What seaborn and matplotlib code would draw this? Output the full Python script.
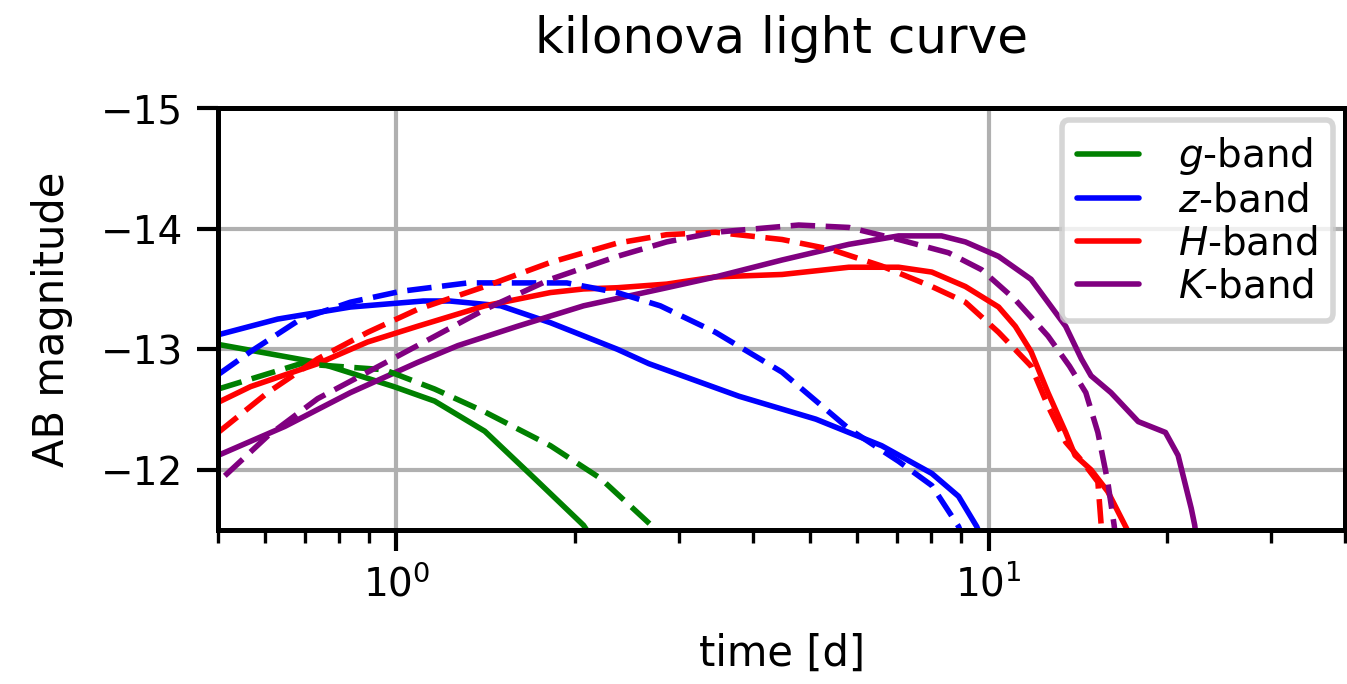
import numpy as np
import pandas as pd
import matplotlib
matplotlib.use("Agg")
import matplotlib.pyplot as plt
import seaborn as sns
from matplotlib.ticker import NullFormatter

# ---- data ----
g_t      = [0.5, 0.736, 0.99, 1.16, 1.41, 1.71, 2.07, 2.3]
g_mag    = [-13.04, -12.89, -12.69, -12.57, -12.32, -11.93, -11.54, -11.2]
g2_t     = [0.5, 0.689, 0.954, 1.16, 1.41, 1.82, 2.21, 2.68, 2.9]
g2_mag   = [-12.67, -12.88, -12.83, -12.67, -12.48, -12.20, -11.93, -11.55, -11.35]

z_t      = [0.5, 0.63, 0.836, 1.11, 1.23, 1.50, 1.82, 2.36, 2.67, 3.79, 5.11, 6.60, 8.02, 8.90, 9.55, 10.0]
z_mag    = [-13.12, -13.25, -13.35, -13.40, -13.40, -13.36, -13.22, -13.0, -12.88, -12.61, -12.42, -12.20, -11.97, -11.78, -11.53, -11.3]
z2_t     = [0.5, 0.567, 0.689, 0.836, 1.016, 1.32, 1.94, 2.36, 2.79, 3.46, 4.48, 5.81, 7.05, 8.02, 8.90, 9.3]
z2_mag   = [-12.79, -12.98, -13.25, -13.39, -13.48, -13.55, -13.55, -13.47, -13.36, -13.14, -12.81, -12.34, -12.07, -11.87, -11.53, -11.3]

H_t      = [0.5, 0.567, 0.736, 0.894, 1.085, 1.41, 1.82, 2.07, 2.36, 2.86, 3.46, 4.48, 5.81, 7.05, 8.02, 9.14, 10.4, 11.1, 11.8, 12.6, 13.5, 14.0, 14.9, 15.9, 17.0, 18.0]
H_mag    = [-12.56, -12.69, -12.88, -13.06, -13.19, -13.36, -13.47, -13.50, -13.51, -13.54, -13.60, -13.62, -13.68, -13.68, -13.64, -13.52, -13.35, -13.19, -12.98, -12.64, -12.31, -12.12, -12.0, -11.82, -11.54, -11.3]
H2_t     = [0.5, 0.606, 0.736, 0.894, 1.085, 1.41, 1.82, 2.36, 2.86, 3.46, 4.48, 5.4, 6.60, 8.02, 9.14, 10.4, 11.8, 12.6, 13.5, 14.4, 15.3, 15.5, 15.7]
H2_mag   = [-12.31, -12.64, -12.92, -13.14, -13.33, -13.52, -13.72, -13.88, -13.95, -13.97, -13.91, -13.83, -13.69, -13.52, -13.39, -13.14, -12.86, -12.53, -12.23, -12.07, -11.90, -11.54, -11.0]

K_t      = [0.5, 0.648, 0.836, 1.085, 1.27, 1.60, 2.07, 2.86, 3.46, 4.48, 5.81, 7.05, 8.33, 9.14, 10.4, 11.8, 13.5, 14.35, 14.9, 16.1, 17.9, 19.9, 20.9, 22.0, 22.3, 22.6]
K_mag    = [-12.12, -12.36, -12.64, -12.89, -13.03, -13.19, -13.36, -13.51, -13.60, -13.74, -13.87, -13.94, -13.94, -13.89, -13.77, -13.58, -13.19, -12.92, -12.78, -12.64, -12.40, -12.31, -12.12, -11.68, -11.54, -11.3]
K2_t     = [0.513, 0.606, 0.736, 0.894, 1.085, 1.41, 1.82, 2.36, 2.86, 3.46, 4.78, 5.81, 7.05, 8.56, 9.73, 11.1, 12.6, 13.7, 14.6, 15.3, 15.9, 16.3, 16.6]
K2_mag   = [-11.95, -12.28, -12.59, -12.81, -13.03, -13.33, -13.58, -13.77, -13.89, -13.97, -14.03, -14.01, -13.91, -13.80, -13.66, -13.41, -13.11, -12.86, -12.64, -12.31, -11.90, -11.54, -11.2]

bands = ["$g$-band", "$z$-band", "$H$-band", "$K$-band"]
colors = ["green", "blue", "red", "purple"]

# ---- plot ----
sns.set_style("white")
plt.rcParams["font.family"] = ["DejaVu Sans"]
plt.rcParams["axes.unicode_minus"] = True
plt.rcParams["text.color"] = "black"
plt.rcParams["axes.labelcolor"] = "black"
plt.rcParams["xtick.color"] = "black"
plt.rcParams["ytick.color"] = "black"

fig, ax = plt.subplots(figsize=(6.735, 3.42), dpi=200)
fig.subplots_adjust(left=0.162, right=0.9985, top=0.842, bottom=0.225)

solid = [(g_t, g_mag), (z_t, z_mag), (H_t, H_mag), (K_t, K_mag)]
dashed = [(g2_t, g2_mag), (z2_t, z2_mag), (H2_t, H2_mag), (K2_t, K2_mag)]

for (t, m), lab, c in zip(solid, bands, colors):
    sns.lineplot(x=t, y=m, ax=ax, color=c, lw=2.0, label=lab, sort=False)
for (t, m), c in zip(dashed, colors):
    sns.lineplot(x=t, y=m, ax=ax, color=c, lw=2.0, sort=False)
for l in ax.lines[4:]:
    l.set_linestyle((0, (4.4, 1.9)))

ax.set_xscale("log")
ax.set_xlim(0.5, 40)
ax.set_ylim(-11.5, -15)
ax.set_yticks([-15, -14, -13, -12])
ax.xaxis.set_minor_formatter(NullFormatter())
ax.grid(True, which="major", color="#b0b0b0", lw=1.5)
ax.set_axisbelow(True)

for s in ax.spines.values():
    s.set_linewidth(1.8)
    s.set_color("black")
ax.tick_params(axis="both", which="major", length=7.5, width=1.5, labelsize=14, direction="out",
               bottom=True, left=True, color="black", pad=5)
ax.tick_params(axis="x", which="minor", length=4.5, width=1.2, bottom=True, color="black")

ax.set_xlabel("time [d]", fontsize=15, labelpad=10)
ax.set_ylabel("AB magnitude", fontsize=15, labelpad=10)
ax.set_title("kilonova light curve", fontsize=18, pad=20)

leg = ax.legend(loc="upper right", fontsize=14, handlelength=1.6, borderpad=0.4,
                labelspacing=0.12, handletextpad=1.0, borderaxespad=0.3,
                frameon=True, fancybox=True, framealpha=0.8)
leg.get_frame().set_edgecolor("#cccccc")
leg.get_frame().set_linewidth(2.0)

fig.savefig("out.png", dpi=200)
